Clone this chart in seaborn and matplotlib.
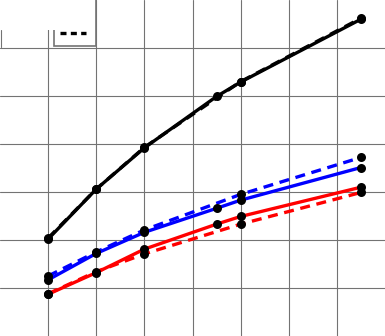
import matplotlib
matplotlib.use("Agg")
import matplotlib.pyplot as plt
from matplotlib.lines import Line2D
from matplotlib.patches import Rectangle
import seaborn as sns
import pandas as pd

# values
x_solid = [1, 2, 3, 4.5, 5, 7.5]
x_dashed = [1, 2, 3, 5, 7.5]

black_solid = [2.02, 3.06, 3.92, 4.99, 5.29, 6.60]
blue_solid = [1.17, 1.72, 2.16, 2.66, 2.83, 3.51]
red_solid = [0.87, 1.32, 1.81, 2.33, 2.49, 3.10]

black_dashed = [2.04, 3.06, 3.93, 5.30, 6.62]
blue_dashed = [1.25, 1.75, 2.21, 2.95, 3.72]
red_dashed = [0.88, 1.34, 1.71, 2.33, 2.99]

rows = []
for color, xs, ys, style in [
    ("black", x_solid, black_solid, "solid"),
    ("blue", x_solid, blue_solid, "solid"),
    ("red", x_solid, red_solid, "solid"),
    ("black", x_dashed, black_dashed, "dashed"),
    ("blue", x_dashed, blue_dashed, "dashed"),
    ("red", x_dashed, red_dashed, "dashed"),
]:
    for xv, yv in zip(xs, ys):
        rows.append({"x": xv, "y": yv, "color": color, "style": style})
df = pd.DataFrame(rows)

sns.set_theme(style="whitegrid")
fig = plt.figure(figsize=(3.85, 3.36), dpi=100)
ax = fig.add_axes([0, 0, 1, 1])

sns.lineplot(data=df, x="x", y="y", hue="color", style="style",
             palette={"black": "black", "blue": "blue", "red": "red"},
             dashes={"solid": "", "dashed": (3, 2)},
             linewidth=2.4, legend=False, ax=ax, zorder=3)
sns.scatterplot(data=df, x="x", y="y", color="black", s=42,
                edgecolor="black", linewidth=0, legend=False, ax=ax, zorder=4)

ax.set_xlim(0, 8)
ax.set_ylim(0, 7)
ax.set_xticks(range(1, 8))
ax.set_yticks(range(1, 7))
ax.grid(True, color="0.45", linewidth=0.8)
ax.tick_params(length=0, labelbottom=False, labelleft=False)
ax.set_xlabel("")
ax.set_ylabel("")
for s in ax.spines.values():
    s.set_visible(False)

# legend, mostly cropped away at the top-left
handles = [Line2D([], [], color="none"),
           Line2D([], [], color="none"),
           Line2D([], [], color="black", linestyle="--", linewidth=2.4,
                  dashes=(1.8, 1.3))]
leg = ax.legend(handles=handles, labels=[" ", " ", " "], loc="lower right",
                bbox_to_anchor=(96 / 385, 1 - 46 / 336), fancybox=False,
                framealpha=1, edgecolor="0.45", handlelength=1.9,
                handletextpad=0.0, borderaxespad=0, fontsize=10)
leg.get_frame().set_linewidth(1.2)
leg.set_zorder(6)

# white area left of the legend, with a short frame stub at the left edge
ax.add_patch(Rectangle((0, 1 - 30 / 336), 55 / 385, 30 / 336,
                       transform=ax.transAxes, facecolor="white",
                       edgecolor="none", zorder=7))
ax.axvline(0.5 / 48.1, ymin=1 - 47 / 336, ymax=1 - 30 / 336,
           color="0.45", linewidth=0.8, zorder=7)

plt.savefig("out.png", dpi=100)
plt.close()
